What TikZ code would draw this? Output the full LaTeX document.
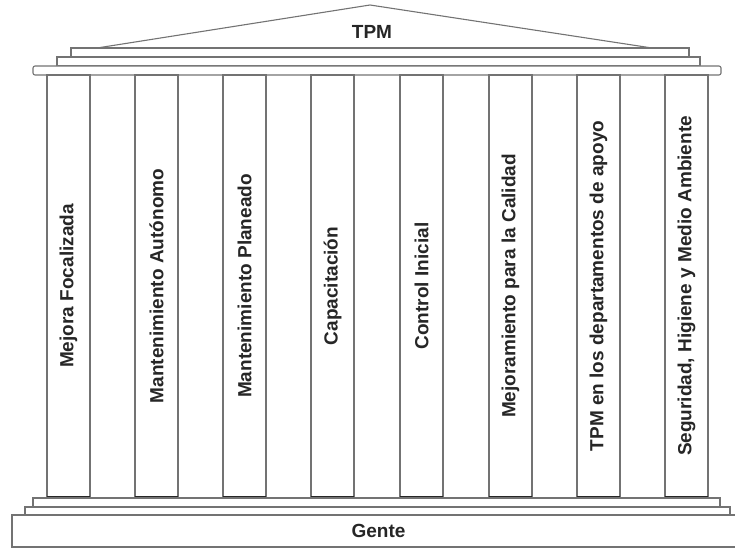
\documentclass[tikz,border=0pt]{standalone}
\usepackage{fontspec}
\setmainfont{Liberation Sans}
\newcommand{\pillarfont}{\fontsize{19}{21}\selectfont\bfseries}

\begin{document}
\begin{tikzpicture}[x=1pt,y=-1pt,
        every node/.style={inner sep=0pt,outer sep=0pt},
        slab/.style={draw=black!55,line width=1.1pt,fill=white,rectangle},
        pillar/.style={slab,minimum width=43pt,minimum height=422pt},
        pillartext/.style={rotate=90,font=\pillarfont,text=black!85},
        colfoot/.style={line width=1.6pt,black!85},
        roof/.style={draw=black!55,line width=1.1pt}]
    \useasboundingbox (0,0) rectangle (735,548);

    % roof
    \coordinate (apex) at (370,5);
    \coordinate (eaveL) at (97,48);
    \coordinate (eaveR) at (652,48);
    \draw[roof] (eaveL) -- (apex) -- (eaveR);
    \node[font=\pillarfont,text=black!85] (tpm) at (372,32) {TPM};

    % steps below the roof
    \node[slab,minimum width=618pt,minimum height=9pt] (top1) at (380,52.5) {};
    \node[slab,minimum width=643pt,minimum height=9pt] (top2) at (378.5,61.5) {};
    \node[slab,rounded corners=2pt,minimum width=688pt,minimum height=9pt] (top3) at (377,70.5) {};

    % pillars
    \node[pillar] (c1) at (68.5,286) {};
    \node[pillar] (c2) at (156.5,286) {};
    \node[pillar] (c3) at (244.5,286) {};
    \node[pillar] (c4) at (332.5,286) {};
    \node[pillar] (c5) at (421.5,286) {};
    \node[pillar] (c6) at (510.5,286) {};
    \node[pillar] (c7) at (598.5,286) {};
    \node[pillar] (c8) at (686.5,286) {};

    \node[pillartext] (t1) at (c1) {Mejora Focalizada};
    \node[pillartext] (t2) at (c2) {Mantenimiento Autónomo};
    \node[pillartext] (t3) at (c3) {Mantenimiento Planeado};
    \node[pillartext] (t4) at (c4) {Capacitación};
    \node[pillartext] (t5) at (c5) {Control Inicial};
    \node[pillartext] (t6) at (c6) {Mejoramiento para la Calidad};
    \node[pillartext] (t7) at (c7) {TPM en los departamentos de apoyo};
    \node[pillartext] (t8) at (c8) {Seguridad, Higiene y Medio Ambiente};

    % dark feet of the pillars
    \draw[colfoot] (c1.south west) -- (c1.south east);
    \draw[colfoot] (c2.south west) -- (c2.south east);
    \draw[colfoot] (c3.south west) -- (c3.south east);
    \draw[colfoot] (c4.south west) -- (c4.south east);
    \draw[colfoot] (c5.south west) -- (c5.south east);
    \draw[colfoot] (c6.south west) -- (c6.south east);
    \draw[colfoot] (c7.south west) -- (c7.south east);
    \draw[colfoot] (c8.south west) -- (c8.south east);

    % base
    \node[slab,minimum width=687pt,minimum height=9pt] (step1) at (376.5,502.5) {};
    \node[slab,minimum width=705pt,minimum height=8pt] (step2) at (377.5,511) {};
    \node[slab,minimum width=733pt,minimum height=32pt,font=\pillarfont,text=black!85] (gente) at (378.5,531) {Gente};
\end{tikzpicture}
\end{document}
